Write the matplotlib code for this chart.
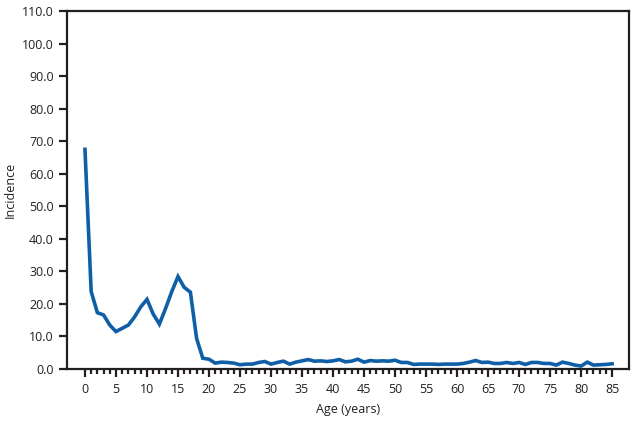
import matplotlib
matplotlib.use("Agg")
import matplotlib.pyplot as plt
import numpy as np
from matplotlib.ticker import MultipleLocator, FormatStrFormatter

ages = list(range(0, 86))
incidence = [
    67.5, 23.8, 17.3, 16.6, 13.5, 11.5, 12.5, 13.5, 16.0, 19.1,
    21.4, 16.9, 13.8, 18.6, 23.8, 28.4, 25.1, 23.6, 9.4, 3.3,
    3.0, 1.8, 2.1, 2.0, 1.8, 1.3, 1.5, 1.5, 2.0, 2.3,
    1.5, 2.0, 2.4, 1.5, 2.1, 2.5, 2.9, 2.4, 2.5, 2.3,
    2.5, 2.9, 2.2, 2.4, 3.0, 2.1, 2.6, 2.4, 2.5, 2.4,
    2.7, 2.0, 2.0, 1.4, 1.5, 1.5, 1.5, 1.4, 1.5, 1.5,
    1.5, 1.7, 2.1, 2.6, 2.0, 2.1, 1.7, 1.7, 2.0, 1.7,
    2.0, 1.4, 2.0, 2.0, 1.7, 1.7, 1.2, 2.1, 1.7, 1.2,
    0.9, 2.1, 1.2, 1.3, 1.4, 1.6,
]

line_color = "#0f5fa8"
ink = "#231f20"

plt.rcParams["font.family"] = ["Open Sans", "DejaVu Sans"]

fig = plt.figure(figsize=(6.41, 4.25), dpi=100)
ax = fig.add_axes([0.1045, 0.1318, 0.8775, 0.8422])

ax.plot(ages, incidence, color=line_color, linewidth=2.6, solid_joinstyle="miter")

ax.set_xlim(-2.9, 87.8)
ax.set_ylim(0, 110)

ax.yaxis.set_major_locator(MultipleLocator(10))
ax.yaxis.set_major_formatter(FormatStrFormatter("%.1f"))
ax.set_xticks(np.arange(0, 86, 5))
ax.set_xticks(np.arange(0, 86, 1), minor=True)

for spine in ax.spines.values():
    spine.set_linewidth(1.6)
    spine.set_color(ink)

ax.tick_params(axis="y", direction="out", length=5.5, width=1.6, color=ink,
               labelsize=9, labelcolor=ink, pad=4)
ax.tick_params(axis="x", which="major", direction="out", length=6, width=1.6,
               color=ink, labelsize=9, labelcolor=ink, pad=4)
ax.tick_params(axis="x", which="minor", direction="out", length=3.5, width=1.6,
               color=ink)

ax.set_xlabel("Age (years)", fontsize=9, color=ink, labelpad=5)
ax.set_ylabel("Incidence", fontsize=9, color=ink, labelpad=4)

fig.savefig("out.png", dpi=100)
